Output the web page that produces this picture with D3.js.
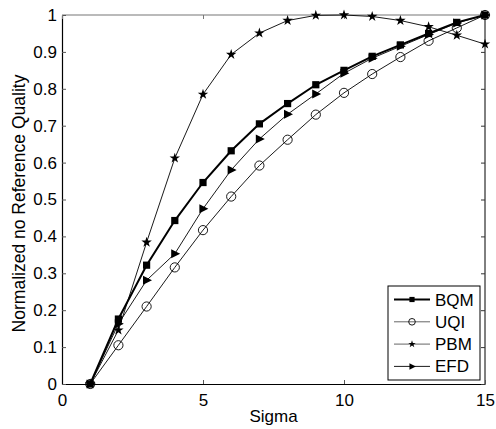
<!DOCTYPE html>
<html>
<head>
<meta charset="utf-8">
<script src="https://cdn.jsdelivr.net/npm/d3@7/dist/d3.min.js"></script>
<style>
	body { margin: 0; background: #fff; }
	svg { display: block; font-family: "Liberation Sans", Arial, sans-serif; }
</style>
</head>
<body>
<div id="container"></div>
<script>
// data
const sigma = [1, 2, 3, 4, 5, 6, 7, 8, 9, 10, 11, 12, 13, 14, 15];
const bqm = [0, 0.176, 0.322, 0.443, 0.546, 0.632, 0.705, 0.760, 0.811, 0.850, 0.888, 0.919, 0.950, 0.980, 1.0];
const uqi = [0, 0.105, 0.210, 0.316, 0.417, 0.508, 0.592, 0.662, 0.730, 0.789, 0.840, 0.886, 0.930, 0.965, 1.0];
const pbm = [0, 0.146, 0.384, 0.612, 0.785, 0.893, 0.951, 0.985, 0.999, 1.0, 0.996, 0.985, 0.968, 0.945, 0.921];
const efd = [0, 0.163, 0.281, 0.353, 0.475, 0.580, 0.664, 0.731, 0.786, 0.842, 0.883, 0.915, 0.947, 0.978, 1.0];
const xTicks = [0, 5, 10, 15];
const yTicks = [0, 0.1, 0.2, 0.3, 0.4, 0.5, 0.6, 0.7, 0.8, 0.9, 1];
const seriesNames = ["BQM", "UQI", "PBM", "EFD"];

const W = 496, H = 429;
const margin = { left: 62, right: 11, top: 15, bottom: 45 };

const svg = d3.select("#container").append("svg")
	.attr("width", W)
	.attr("height", H);

svg.append("rect").attr("width", W).attr("height", H).attr("fill", "#fff");

const x = d3.scaleLinear().domain([0, 15]).range([margin.left, W - margin.right]);
const y = d3.scaleLinear().domain([0, 1]).range([H - margin.bottom, margin.top]);

const g = svg.append("g");

// box (top/right) lines
g.append("line")
	.attr("x1", x(0)).attr("x2", x(15))
	.attr("y1", y(1)).attr("y2", y(1))
	.attr("stroke", "#777").attr("stroke-width", 1.2);
g.append("line")
	.attr("x1", x(15)).attr("x2", x(15))
	.attr("y1", y(1)).attr("y2", y(0))
	.attr("stroke", "#000").attr("stroke-width", 1);

// axes, ticks pointing inside
const xAxis = d3.axisBottom(x).tickValues(xTicks).tickFormat(d3.format("d")).tickSizeInner(-4).tickSizeOuter(0).tickPadding(10);
const yAxis = d3.axisLeft(y).tickValues(yTicks).tickFormat(d => d === 0 || d === 1 ? d3.format("d")(d) : d3.format(".1f")(d)).tickSizeInner(-4).tickSizeOuter(0).tickPadding(5);

const gx = g.append("g").attr("transform", `translate(0,${y(0)})`).call(xAxis);
const gy = g.append("g").attr("transform", `translate(${x(0)},0)`).call(yAxis);

[gx, gy].forEach(a => {
	a.select(".domain").attr("stroke", "#000").attr("stroke-width", 1.2);
	a.selectAll(".tick line").attr("stroke", "#555");
	a.selectAll(".tick text").attr("font-size", 17).attr("fill", "#000").attr("font-family", "Liberation Sans, Arial, sans-serif");
});

// mirror ticks on top and right
g.append("g").attr("transform", `translate(0,${y(1)})`)
	.call(d3.axisTop(x).tickValues(xTicks).tickFormat("").tickSizeInner(-4).tickSizeOuter(0))
	.call(a => a.select(".domain").remove())
	.call(a => a.selectAll(".tick line").attr("stroke", "#777"));
g.append("g").attr("transform", `translate(${x(15)},0)`)
	.call(d3.axisRight(y).tickValues(yTicks).tickFormat("").tickSizeInner(-4).tickSizeOuter(0))
	.call(a => a.select(".domain").remove())
	.call(a => a.selectAll(".tick line").attr("stroke", "#333"));

// axis titles
svg.append("text")
	.attr("x", (x(0) + x(15)) / 2)
	.attr("y", 422)
	.attr("text-anchor", "middle")
	.attr("font-size", 17)
	.text("Sigma");

svg.append("text")
	.attr("transform", `translate(25,${(y(0) + y(1)) / 2 + 4}) rotate(-90)`)
	.attr("text-anchor", "middle")
	.attr("font-size", 17.5)
	.text("Normalized no Reference Quality");

// marker shapes
const triPath = s => `M${-s * 0.6},${-s * 0.75}L${s * 0.9},0L${-s * 0.6},${s * 0.75}Z`;
const markers = {
	BQM: (sel, k) => sel.append("path").attr("d", d3.symbol(d3.symbolSquare, 52 * k * k)()).attr("fill", "#000"),
	UQI: (sel, k) => sel.append("circle").attr("r", 4.6 * k).attr("fill", "none").attr("stroke", "#000").attr("stroke-width", 0.9),
	PBM: (sel, k) => sel.append("path").attr("d", d3.symbol(d3.symbolStar, 34 * k * k)()).attr("fill", "#000"),
	EFD: (sel, k) => sel.append("path").attr("d", triPath(6 * k)).attr("fill", "#000")
};
const widths = { BQM: 2, UQI: 0.9, PBM: 0.9, EFD: 0.9 };
const values = { BQM: bqm, UQI: uqi, PBM: pbm, EFD: efd };

const line = d3.line().x(d => x(d[0])).y(d => y(d[1]));

// draw order: thin first, thick last
["UQI", "PBM", "EFD", "BQM"].forEach(name => {
	const pts = sigma.map((s, i) => [s, values[name][i]]);
	const sg = g.append("g").attr("class", "series-" + name);
	sg.append("path")
		.datum(pts)
		.attr("d", line)
		.attr("fill", "none")
		.attr("stroke", "#000")
		.attr("stroke-width", widths[name]);
	pts.forEach(p => {
		const m = sg.append("g").attr("transform", `translate(${x(p[0])},${y(p[1])})`);
		markers[name](m, 1);
	});
});

// legend
const leg = svg.append("g").attr("transform", "translate(388,286)");
leg.append("rect")
	.attr("width", 92).attr("height", 94)
	.attr("fill", "#fff").attr("stroke", "#000").attr("stroke-width", 1);
seriesNames.forEach((name, i) => {
	const ry = 13.5 + i * 22.3;
	leg.append("line")
		.attr("x1", 6).attr("x2", 42)
		.attr("y1", ry).attr("y2", ry)
		.attr("stroke", name === "UQI" || name === "PBM" ? "#555" : "#000")
		.attr("stroke-width", widths[name]);
	const m = leg.append("g").attr("transform", `translate(24,${ry})`);
	markers[name](m, 0.72);
	leg.append("text")
		.attr("x", 47).attr("y", ry + 6)
		.attr("font-size", 17)
		.text(name);
});
</script>
</body>
</html>
